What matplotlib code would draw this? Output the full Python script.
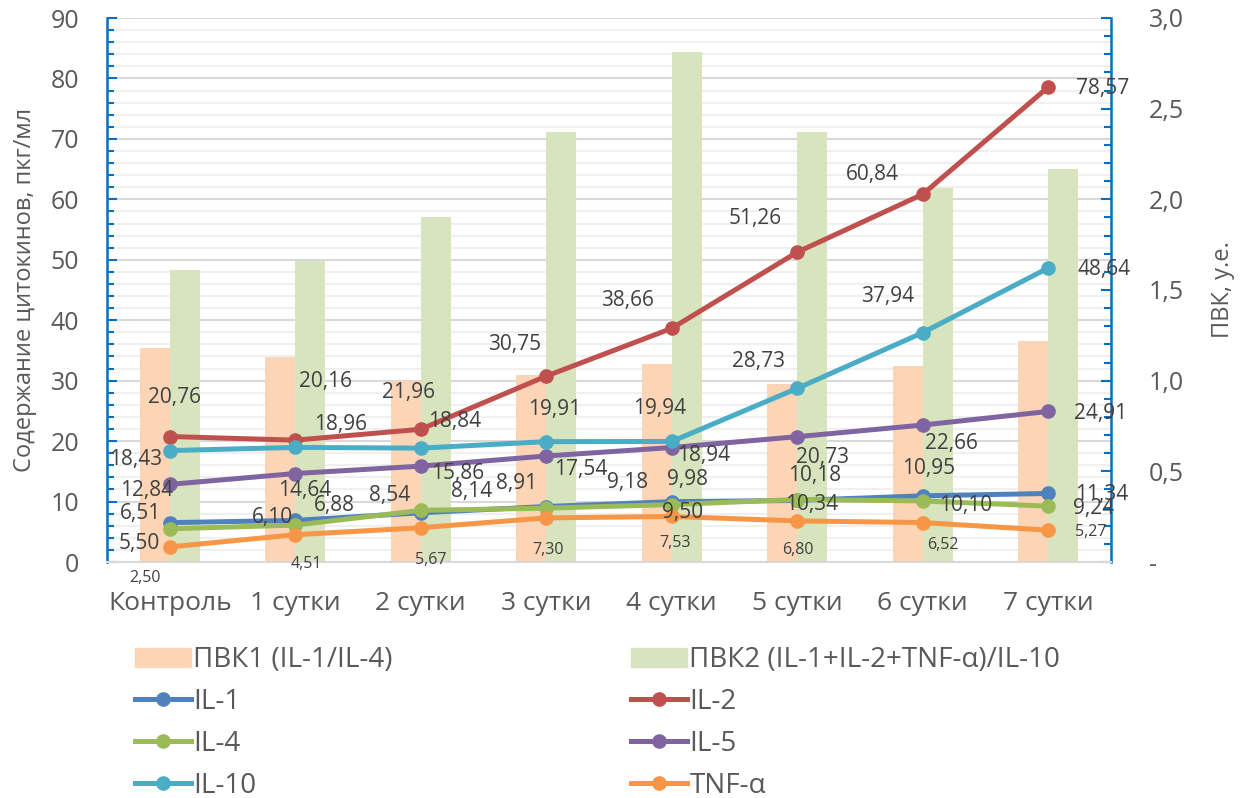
import numpy as np
import matplotlib.pyplot as plt
from matplotlib.lines import Line2D
from matplotlib.patches import Patch
from matplotlib.ticker import MultipleLocator, FuncFormatter

plt.rcParams['font.family'] = ['Open Sans', 'DejaVu Sans']

# ---- data ----
categories = ['Контроль', '1 сутки', '2 сутки', '3 сутки',
              '4 сутки', '5 сутки', '6 сутки', '7 сутки']

il1 = [6.51, 6.88, 8.14, 9.18, 9.98, 10.18, 10.95, 11.34]
il2 = [20.76, 20.16, 21.96, 30.75, 38.66, 51.26, 60.84, 78.57]
il4 = [5.50, 6.10, 8.54, 8.91, 9.50, 10.34, 10.10, 9.24]
il5 = [12.84, 14.64, 15.86, 17.54, 18.94, 20.73, 22.66, 24.91]
il10 = [18.43, 18.96, 18.84, 19.91, 19.94, 28.73, 37.94, 48.64]
tnf = [2.50, 4.51, 5.67, 7.30, 7.53, 6.80, 6.52, 5.27]

pvk1 = [1.18, 1.13, 1.00, 1.03, 1.09, 0.98, 1.08, 1.22]
pvk2 = [1.61, 1.66, 1.90, 2.37, 2.81, 2.37, 2.06, 2.17]

# label offsets in pixels (dx right, dy down)
off_il1 = [(-29, -9), (39, -15), (51, -21), (81, -24), (16, -22), (17, -25), (6, -27), (53, 1)]
off_il2 = [(5, -39), (30, -59), (-12, -37), (-32, -32), (-44, -28), (-42, -34), (-50, -20), (54, 1)]
off_il4 = [(-31, 15), (-23, -8), (-31, -15), (-30, -25), (11, 8), (14, 5), (43, 5), (45, 2)]
off_il5 = [(-23, 6), (9, 17), (37, 7), (34, 14), (32, 8), (25, 21), (29, 18), (52, 2)]
off_il10 = [(-34, 9), (45, -23), (34, -27), (8, -32), (-12, -33), (-39, -27), (-35, -36), (56, 2)]
off_tnf = [(-25, 31), (11, 29), (10, 32), (2, 32), (3, 27), (1, 29), (20, 22), (43, 2)]

series = [
    ('IL-1', il1, '#4F81BD', off_il1, 15),
    ('IL-2', il2, '#C0504D', off_il2, 15),
    ('IL-4', il4, '#9BBB59', off_il4, 15),
    ('IL-5', il5, '#8064A2', off_il5, 15),
    ('IL-10', il10, '#4BACC6', off_il10, 15),
    ('TNF-α', tnf, '#F79646', off_tnf, 11.5),
]

c_pvk1 = '#FBD5B5'
c_pvk2 = '#D7E4BD'
axis_blue = '#0070C0'
txt_gray = '#595959'
lbl_gray = '#404040'

fig = plt.figure(figsize=(12.41, 7.98), dpi=100)
ax = fig.add_axes([107 / 1241, 1 - 562 / 798, (1111 - 107) / 1241, (562 - 18) / 798])
ax2 = ax.twinx()
ax.set_zorder(ax2.get_zorder() + 1)
ax.patch.set_visible(False)

x = np.arange(len(categories))
w = 0.24

# ---- bars on the right axis ----
ax2.set_ylim(0, 3)
ax.set_ylim(0, 90)
scale = 3 / 90
for v in np.arange(0, 91, 2):
    major = v % 10 == 0
    ax2.axhline(v * scale, color='#D9D9D9' if major else '#F0F0F0',
                lw=1.5, zorder=0)
ax2.bar(x - w / 2, pvk1, width=w, color=c_pvk1, zorder=2)
ax2.bar(x + w / 2, pvk2, width=w, color=c_pvk2, zorder=2)

# ---- cytokine lines on the left axis ----
for name, vals, col, offs, fs in series:
    ax.plot(x, vals, color=col, lw=3.6, marker='o', ms=9.5,
            solid_capstyle='round', zorder=3)
    for i, v in enumerate(vals):
        dx, dy = offs[i]
        ax.annotate(f'{v:.2f}'.replace('.', ','), xy=(i, v),
                    xytext=(dx, -dy), textcoords='offset pixels',
                    ha='center', va='center', fontsize=fs, color=lbl_gray,
                    zorder=4)

ax.set_xlim(-0.5, len(categories) - 0.5)

# ---- axes styling ----
for s in ['top', 'right']:
    ax.spines[s].set_visible(False)
for s in ['top', 'left', 'bottom']:
    ax2.spines[s].set_visible(False)
ax.spines['left'].set_color(axis_blue)
ax.spines['left'].set_linewidth(1.8)
ax.spines['bottom'].set_color('#D9D9D9')
ax.spines['bottom'].set_linewidth(1.5)
ax2.spines['right'].set_color(axis_blue)
ax2.spines['right'].set_linewidth(1.8)

ax.yaxis.set_major_locator(MultipleLocator(10))
ax.yaxis.set_minor_locator(MultipleLocator(2))
ax.tick_params(axis='y', which='major', direction='in', length=7, width=1.5,
               color=axis_blue, labelcolor=txt_gray, labelsize=18, pad=20)
ax.tick_params(axis='y', which='minor', direction='in', length=5, width=1.5,
               color=axis_blue)

ax2.yaxis.set_major_locator(MultipleLocator(0.5))
ax2.yaxis.set_minor_locator(MultipleLocator(0.1))
ax2.yaxis.set_major_formatter(FuncFormatter(
    lambda v, p: '-' if abs(v) < 1e-9 else f'{v:.1f}'.replace('.', ',')))
ax2.tick_params(axis='y', which='major', direction='in', length=7, width=1.5,
                color=axis_blue, labelcolor=txt_gray, labelsize=18, pad=27)
ax2.tick_params(axis='y', which='minor', direction='in', length=5, width=1.5,
                color=axis_blue)

ax.set_xticks(x)
ax.set_xticklabels(categories)
ax.tick_params(axis='x', length=0, labelsize=19, labelcolor=txt_gray, pad=21)

ax.set_ylabel('Содержание цитокинов, пкг/мл', fontsize=17, color=txt_gray,
              labelpad=10)
ax2.set_ylabel('ПВК, у.е.', fontsize=17, color=txt_gray, labelpad=20)

# ---- legend: two columns ----
def line_handle(col):
    return Line2D([0], [0], color=col, lw=3.6, marker='o', ms=9.5)

cols = {name: col for name, _, col, _, _ in series}
leg_kw = dict(loc='upper left', frameon=False, fontsize=20, labelcolor=txt_gray,
              handlelength=2.0, handleheight=0.65, handletextpad=0.1,
              borderpad=0, borderaxespad=0, labelspacing=0.5)
left_items = [(Patch(color=c_pvk1), 'ПВК1 (IL-1/IL-4)'),
              (line_handle(cols['IL-1']), 'IL-1'),
              (line_handle(cols['IL-4']), 'IL-4'),
              (line_handle(cols['IL-10']), 'IL-10')]
right_items = [(Patch(color=c_pvk2), 'ПВК2 (IL-1+IL-2+TNF-α)/IL-10'),
               (line_handle(cols['IL-2']), 'IL-2'),
               (line_handle(cols['IL-5']), 'IL-5'),
               (line_handle(cols['TNF-α']), 'TNF-α')]
fig.legend([h for h, _ in left_items], [t for _, t in left_items],
           bbox_to_anchor=(135 / 1241, 1 - 646 / 798), **leg_kw)
fig.legend([h for h, _ in right_items], [t for _, t in right_items],
           bbox_to_anchor=(631 / 1241, 1 - 646 / 798), **leg_kw)

fig.savefig('out.png', dpi=100)
